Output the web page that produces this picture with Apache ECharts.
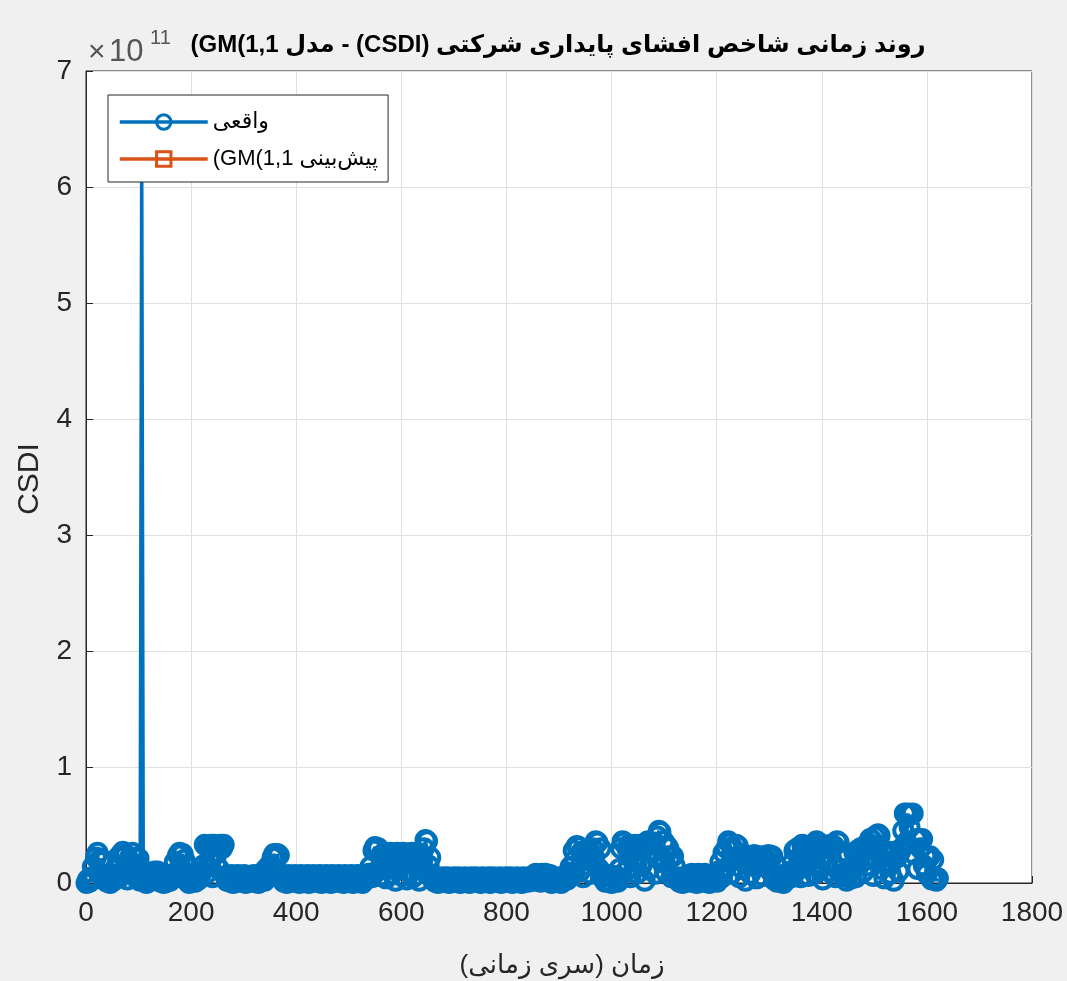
<!DOCTYPE html>
<html><head><meta charset="utf-8">
<script src="https://cdn.jsdelivr.net/npm/echarts@6/dist/echarts.min.js"></script>
<style>html,body{margin:0;padding:0;background:#f0f0f0}#c{width:1067px;height:981px}</style>
</head><body><div id="c"></div>
<script>
// ---- text ----
const titleText = 'روند زمانی شاخص افشای پایداری شرکتی (CSDI) - مدل GM(1,1)';
const seriesNames = ['واقعی', 'پیش‌بینی GM(1,1)'];
const xAxisTitle = 'زمان (سری زمانی)';
const yAxisTitle = 'CSDI';
const yExponent = '11';

// ---- ticks ----
const xTicks = [0, 200, 400, 600, 800, 1000, 1200, 1400, 1600, 1800];
const yTicks = [0, 1, 2, 3, 4, 5, 6, 7]; // ×10^11

// ---- data (time index starts at firstIndex, one sample every indexStep) ----
const firstIndex = 1;
const indexStep = 3;
const actualE11 = [
  0.00, 0.03, 0.01, 0.05, 0.14, 0.04, 0.22, 0.26, 0.08, 0.21,
  0.18, 0.03, 0.06, 0.01, 0.05, 0.00, 0.06, 0.02, 0.04, 0.12,
  0.22, 0.05, 0.25, 0.27, 0.10, 0.24, 0.03, 0.20, 0.15, 0.26,
  0.08, 0.22, 0.04, 0.21, 0.02, 6.30, 0.03, 0.05, 0.00, 0.04,
  0.07, 0.02, 0.09, 0.10, 0.04, 0.10, 0.08, 0.01, 0.06, 0.00,
  0.05, 0.01, 0.06, 0.02, 0.04, 0.08, 0.18, 0.05, 0.24, 0.26,
  0.12, 0.25, 0.20, 0.03, 0.06, 0.00, 0.07, 0.02, 0.05, 0.01,
  0.07, 0.03, 0.06, 0.10, 0.15, 0.33, 0.08, 0.32, 0.20, 0.33,
  0.05, 0.33, 0.25, 0.32, 0.12, 0.33, 0.30, 0.33, 0.06, 0.02,
  0.06, 0.01, 0.07, 0.00, 0.05, 0.02, 0.07, 0.01, 0.06, 0.03,
  0.07, 0.00, 0.06, 0.02, 0.05, 0.01, 0.07, 0.03, 0.06, 0.00,
  0.07, 0.04, 0.09, 0.02, 0.12, 0.06, 0.15, 0.10, 0.22, 0.25,
  0.12, 0.25, 0.24, 0.05, 0.07, 0.01, 0.06, 0.00, 0.07, 0.02,
  0.06, 0.01, 0.07, 0.03, 0.05, 0.00, 0.07, 0.02, 0.06, 0.01,
  0.07, 0.00, 0.05, 0.02, 0.07, 0.01, 0.06, 0.03, 0.07, 0.00,
  0.06, 0.02, 0.07, 0.01, 0.05, 0.00, 0.07, 0.03, 0.06, 0.01,
  0.07, 0.02, 0.05, 0.00, 0.07, 0.01, 0.06, 0.03, 0.07, 0.00,
  0.06, 0.01, 0.07, 0.02, 0.05, 0.00, 0.07, 0.03, 0.06, 0.08,
  0.14, 0.05, 0.28, 0.31, 0.10, 0.30, 0.06, 0.24, 0.18, 0.26,
  0.04, 0.25, 0.12, 0.26, 0.08, 0.22, 0.02, 0.26, 0.15, 0.24,
  0.06, 0.26, 0.20, 0.03, 0.25, 0.10, 0.26, 0.05, 0.23, 0.18,
  0.26, 0.02, 0.24, 0.20, 0.30, 0.37, 0.36, 0.15, 0.22, 0.04,
  0.06, 0.01, 0.05, 0.00, 0.04, 0.02, 0.05, 0.01, 0.03, 0.05,
  0.00, 0.04, 0.02, 0.05, 0.01, 0.03, 0.05, 0.00, 0.04, 0.02,
  0.05, 0.01, 0.04, 0.00, 0.05, 0.02, 0.03, 0.05, 0.01, 0.04,
  0.00, 0.05, 0.02, 0.04, 0.01, 0.05, 0.00, 0.03, 0.05, 0.02,
  0.04, 0.01, 0.05, 0.00, 0.04, 0.02, 0.05, 0.01, 0.03, 0.05,
  0.00, 0.04, 0.02, 0.05, 0.01, 0.04, 0.00, 0.05, 0.02, 0.04,
  0.01, 0.05, 0.03, 0.06, 0.02, 0.08, 0.04, 0.07, 0.01, 0.08,
  0.03, 0.08, 0.06, 0.02, 0.07, 0.00, 0.05, 0.02, 0.04, 0.01,
  0.05, 0.00, 0.04, 0.02, 0.06, 0.03, 0.09, 0.14, 0.08, 0.28,
  0.20, 0.32, 0.31, 0.10, 0.27, 0.05, 0.28, 0.16, 0.25, 0.28,
  0.08, 0.30, 0.22, 0.36, 0.35, 0.12, 0.30, 0.05, 0.07, 0.01,
  0.06, 0.02, 0.07, 0.00, 0.05, 0.03, 0.06, 0.01, 0.12, 0.30,
  0.36, 0.35, 0.10, 0.30, 0.33, 0.05, 0.32, 0.20, 0.33, 0.08,
  0.30, 0.33, 0.15, 0.32, 0.02, 0.34, 0.36, 0.12, 0.33, 0.26,
  0.35, 0.08, 0.40, 0.45, 0.44, 0.18, 0.36, 0.10, 0.32, 0.30,
  0.22, 0.05, 0.23, 0.15, 0.04, 0.05, 0.01, 0.04, 0.00, 0.05,
  0.02, 0.04, 0.07, 0.01, 0.08, 0.03, 0.07, 0.00, 0.08, 0.04,
  0.07, 0.01, 0.08, 0.02, 0.06, 0.00, 0.04, 0.02, 0.03, 0.04,
  0.01, 0.10, 0.18, 0.05, 0.26, 0.12, 0.30, 0.36, 0.34, 0.08,
  0.30, 0.20, 0.33, 0.32, 0.05, 0.22, 0.12, 0.23, 0.02, 0.20,
  0.23, 0.08, 0.21, 0.24, 0.24, 0.04, 0.22, 0.15, 0.23, 0.06,
  0.22, 0.18, 0.24, 0.24, 0.10, 0.23, 0.03, 0.06, 0.01, 0.07,
  0.02, 0.05, 0.00, 0.06, 0.03, 0.07, 0.10, 0.05, 0.18, 0.28,
  0.10, 0.30, 0.22, 0.05, 0.33, 0.32, 0.15, 0.30, 0.06, 0.31,
  0.20, 0.33, 0.08, 0.36, 0.35, 0.12, 0.32, 0.03, 0.30, 0.25,
  0.31, 0.10, 0.33, 0.18, 0.32, 0.05, 0.36, 0.35, 0.22, 0.12,
  0.06, 0.09, 0.02, 0.08, 0.10, 0.04, 0.15, 0.26, 0.05, 0.28,
  0.20, 0.30, 0.29, 0.10, 0.32, 0.15, 0.34, 0.38, 0.37, 0.06,
  0.40, 0.20, 0.42, 0.41, 0.12, 0.27, 0.04, 0.26, 0.18, 0.27,
  0.08, 0.26, 0.02, 0.27, 0.22, 0.10, 0.27, 0.30, 0.45, 0.60,
  0.35, 0.60, 0.48, 0.59, 0.60, 0.25, 0.38, 0.12, 0.37, 0.30,
  0.38, 0.15, 0.23, 0.08, 0.22, 0.23, 0.03, 0.20, 0.05, 0.02,
  0.04
];
// GM(1,1) forecast: no plotted values in the figure
const forecastE11 = [];

// ---- build ----
// right-to-left display: keep a trailing ")" out of the bracket pair, as the original renderer did
const rtl = s => '\u202B' + s.replace(/\)$/, '\u2067)\u2069') + '\u202C';
const actualData = actualE11.map((v, i) => [firstIndex + i * indexStep, v]);
const forecastData = forecastE11.map((v, i) => [firstIndex + i * indexStep, v]);
const FONT = 'Arial, "Liberation Sans", "DejaVu Sans", sans-serif';
const INK = '#262626';

const chart = echarts.init(document.getElementById('c'), null, {renderer: 'canvas'});
chart.setOption({
  animation: false,
  backgroundColor: '#f0f0f0',
  grid: {left: 86, right: 35, top: 71, bottom: 98, show: true, backgroundColor: '#ffffff',
         borderColor: INK, borderWidth: 1, containLabel: false},
  xAxis: {
    type: 'value', min: xTicks[0], max: xTicks[xTicks.length - 1], interval: xTicks[1] - xTicks[0],
    axisLine: {show: true, onZero: false, lineStyle: {color: INK, width: 1}},
    axisTick: {show: true, inside: true, length: 7, lineStyle: {color: INK}},
    axisLabel: {color: INK, fontSize: 28, fontFamily: FONT, margin: 16, formatter: v => String(v)},
    splitLine: {show: true, lineStyle: {color: '#dfdfdf', width: 1}}
  },
  yAxis: {
    type: 'value', min: yTicks[0], max: yTicks[yTicks.length - 1], interval: yTicks[1] - yTicks[0],
    axisLine: {show: true, onZero: false, lineStyle: {color: INK, width: 1}},
    axisTick: {show: true, inside: true, length: 7, lineStyle: {color: INK}},
    axisLabel: {color: INK, fontSize: 28, fontFamily: FONT, margin: 14, formatter: v => String(v)},
    splitLine: {show: true, lineStyle: {color: '#dfdfdf', width: 1}}
  },
  legend: {
    show: true, orient: 'vertical', left: 108, top: 95, z: 20,
    itemWidth: 88, itemHeight: 18, itemGap: 15,
    padding: [16, 10, 12, 10],
    backgroundColor: '#ffffff', borderColor: INK, borderWidth: 1, borderRadius: 0,
    textStyle: {fontSize: 22, color: '#000', fontFamily: FONT},
    lineStyle: {width: 3.5},
    itemStyle: {borderWidth: 3},
    formatter: n => rtl(n),
    selectedMode: false,
    data: seriesNames
  },
  tooltip: {show: false},
  series: [
    {
      name: seriesNames[0], type: 'line', data: actualData,
      symbol: 'circle', symbolSize: 18, showAllSymbol: true, clip: false,
      lineStyle: {color: '#0072BD', width: 3.5},
      itemStyle: {color: 'rgba(0,0,0,0)', borderColor: '#0072BD', borderWidth: 4},
      emphasis: {disabled: true}, z: 2
    },
    {
      name: seriesNames[1], type: 'line', data: forecastData,
      symbol: 'rect', symbolSize: 12, clip: false,
      lineStyle: {color: '#D95319', width: 3.5},
      itemStyle: {color: 'rgba(0,0,0,0)', borderColor: '#D95319', borderWidth: 3},
      emphasis: {disabled: true}, z: 3
    }
  ],
  graphic: [
    {type: 'text', x: 558, y: 45, z: 30,
     style: {text: rtl(titleText), font: 'bold 24px ' + FONT, fill: '#000', align: 'center', verticalAlign: 'middle'}},
    {type: 'text', x: 562, y: 966, z: 30,
     style: {text: rtl(xAxisTitle), font: '26px ' + FONT, fill: INK, align: 'center', verticalAlign: 'middle'}},
    {type: 'text', x: 30, y: 479, rotation: Math.PI / 2, z: 30,
     style: {text: yAxisTitle, font: '30px ' + FONT, fill: INK, align: 'center', verticalAlign: 'middle'}},
    {type: 'text', x: 88, y: 53, z: 30,
     style: {text: '×', font: '30px ' + FONT, fill: '#555', align: 'left', verticalAlign: 'middle'}},
    {type: 'text', x: 109, y: 52, z: 30,
     style: {text: '10', font: '31px ' + FONT, fill: '#555', align: 'left', verticalAlign: 'middle'}},
    {type: 'text', x: 150, y: 38, z: 30,
     style: {text: yExponent, font: '20px ' + FONT, fill: '#555', align: 'left', verticalAlign: 'middle'}}
  ]
});
</script></body></html>
